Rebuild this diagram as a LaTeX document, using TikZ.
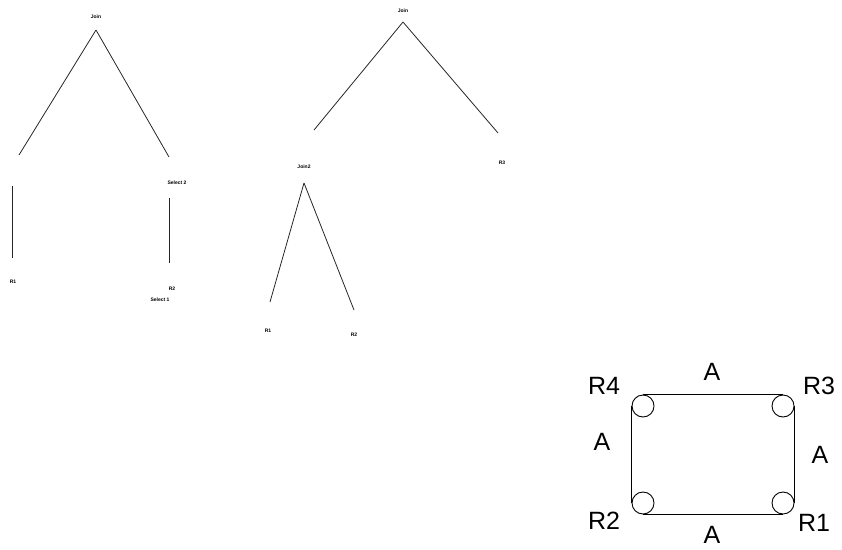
\documentclass[tikz,border=0pt]{standalone}
\usepackage{fontspec}
\setmainfont{Liberation Sans}
\begin{document}
\begin{tikzpicture}[x=1pt,y=-1pt,
  tiny/.style={font=\fontsize{5}{6}\selectfont\bfseries, inner sep=0pt},
  big/.style={font=\fontsize{25}{29}\selectfont, inner sep=0pt},
  branch/.style={line width=0.8pt, black!85},
  ring/.style={draw, circle, line width=0.9pt, minimum size=22pt, inner sep=0pt},
  side/.style={line width=1pt}]
\useasboundingbox (0,0) rectangle (842,549);

% left tree: Join over R1 and Select 2 / R2
\node[tiny] (ja) at (96,17) {Join};
\coordinate (ja-top) at (96,30);
\coordinate (ja-l) at (19,155);
\coordinate (ja-r) at (169,157);
\draw[branch] (ja-top) -- (ja-l);
\draw[branch] (ja-top) -- (ja-r);
\node[tiny] (sel2) at (177,183) {Select 2};
\coordinate (va-t) at (12,186);
\coordinate (va-b) at (12,258);
\coordinate (vb-t) at (169,198);
\coordinate (vb-b) at (169,263);
\draw[branch] (va-t) -- (va-b);
\draw[branch] (vb-t) -- (vb-b);
\node[tiny] (ra1) at (13,282) {R1};
\node[tiny] (ra2) at (172,289) {R2};
\node[tiny] (sel1) at (160,300) {Select 1};

% middle tree: Join over Join2 and R3
\node[tiny] (jb) at (403,11) {Join};
\coordinate (jb-top) at (403,22);
\coordinate (jb-l) at (314,130);
\coordinate (jb-r) at (498,133);
\draw[branch] (jb-top) -- (jb-l);
\draw[branch] (jb-top) -- (jb-r);
\node[tiny] (rb3) at (502,163) {R3};
\node[tiny] (j2) at (304,167) {Join2};
\coordinate (j2-top) at (304,183);
\coordinate (j2-l) at (270,302);
\coordinate (j2-r) at (354,310);
\draw[branch] (j2-top) -- (j2-l);
\draw[branch] (j2-top) -- (j2-r);
\node[tiny] (rb1) at (268,331) {R1};
\node[tiny] (rb2) at (354,335) {R2};

% join graph: four relations in a cycle, each edge labelled A
\node[ring] (c4) at (643,406) {};
\node[ring] (c3) at (783,406) {};
\node[ring] (c2) at (643,503) {};
\node[ring] (c1) at (783,503) {};
\draw[side] (c4.north) -- (c3.north);
\draw[side] (c4.west) -- (c2.west);
\draw[side] (c3.east) -- (c1.east);
\draw[side] (c2.south) -- (c1.south);
\node[big] (l4) at (604,386) {R4};
\node[big] (l3) at (819,386) {R3};
\node[big] (l2) at (604,521) {R2};
\node[big] (l1) at (814,523) {R1};
\node[big] (at) at (712,372) {A};
\node[big] (al) at (602,442) {A};
\node[big] (ar) at (820,455) {A};
\node[big] (ab) at (712,535) {A};
\end{tikzpicture}
\end{document}
